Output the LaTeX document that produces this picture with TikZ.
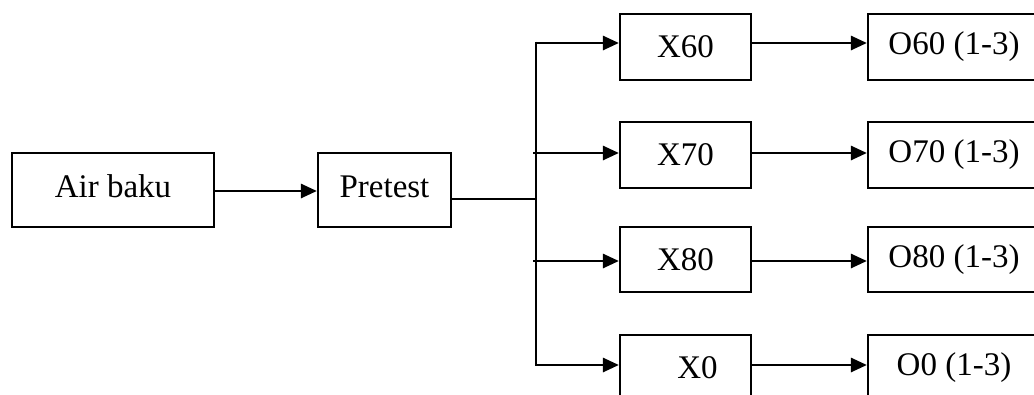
\documentclass[tikz,border=0pt]{standalone}
\usepackage{fontspec}
\setmainfont{Liberation Serif}
\usetikzlibrary{arrows.meta}
\begin{document}
\begin{tikzpicture}[x=1pt,y=-1pt,
  box/.style={draw,line width=2.2pt,inner sep=0pt,font=\fontsize{33pt}{36pt}\selectfont},
  arr/.style={line width=2.8pt,-{Triangle[length=16pt,width=14pt]}},
  ln/.style={line width=2.8pt}]
\useasboundingbox (0,0) rectangle (1034,394);
\clip (0,0) rectangle (1034,394);
\node[box,minimum width=202pt,minimum height=74pt] (air) at (113,190) {\raisebox{7pt}{Air baku}};
\node[box,minimum width=133pt,minimum height=74pt] (pre) at (384.5,190) {\raisebox{7pt}{Pretest}};
\node[box,minimum width=131pt,minimum height=66pt] (x60) at (685.5,47) {X60};
\node[box,minimum width=131pt,minimum height=66pt] (x70) at (685.5,155) {X70};
\node[box,minimum width=131pt,minimum height=65pt] (x80) at (685.5,259.5) {X80};
\node[box,minimum width=131pt,minimum height=66pt] (x0) at (685.5,368) {\hspace*{24pt}X0};
\node[box,minimum width=172pt,minimum height=66pt] (o60) at (954,47) {O60 (1-3)};
\node[box,minimum width=172pt,minimum height=66pt] (o70) at (954,155) {O70 (1-3)};
\node[box,minimum width=172pt,minimum height=65pt] (o80) at (954,259.5) {O80 (1-3)};
\node[box,minimum width=172pt,minimum height=66pt] (o0) at (954,368) {O0 (1-3)};
\coordinate (j) at (536,199);
\coordinate (t1) at (536,43);
\coordinate (t2) at (533,153);
\coordinate (t3) at (533,261);
\coordinate (t4) at (536,365);
\draw[arr] ([yshift=-1pt]air.east) -- ([yshift=-1pt]pre.west);
\draw[ln] ([yshift=-9pt]pre.east) -- (j);
\draw[ln] ([yshift=1.4pt]t1) -- ([yshift=-1.4pt]t4);
\draw[arr] (t1) -- (t1 -| x60.west);
\draw[arr] (t2) -- (t2 -| x70.west);
\draw[arr] (t3) -- (t3 -| x80.west);
\draw[arr] (t4) -- (t4 -| x0.west);
\draw[arr] (t1 -| x60.east) -- (t1 -| o60.west);
\draw[arr] (t2 -| x70.east) -- (t2 -| o70.west);
\draw[arr] (t3 -| x80.east) -- (t3 -| o80.west);
\draw[arr] (t4 -| x0.east) -- (t4 -| o0.west);
\end{tikzpicture}
\end{document}
